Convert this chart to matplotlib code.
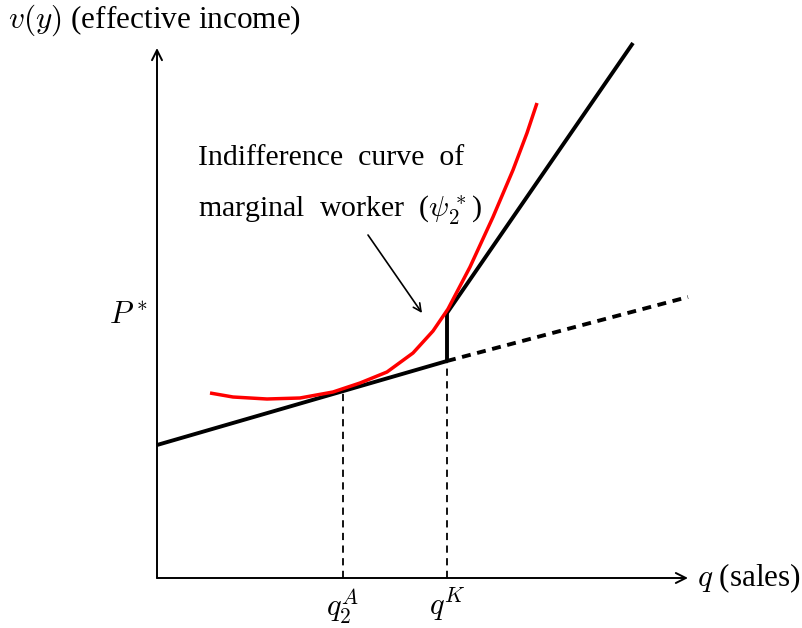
import matplotlib
matplotlib.use("Agg")
import matplotlib.pyplot as plt

plt.rcParams['font.family'] = ['Liberation Serif', 'DejaVu Serif']
plt.rcParams['mathtext.fontset'] = 'cm'

# --- data (model units) ---
axis_x_max = 5.31
axis_y_max = 5.30
q_A = 1.86
q_K = 2.90
intercept_low = 1.33
v_low_at_qK = 2.17
v_high_at_qK = 2.65
dash_end = (5.31, 2.81)
upper_end = (4.76, 5.35)
v_at_qA = 1.87

curve_q = [0.53, 0.76, 1.10, 1.43, 1.76, 2.03, 2.30, 2.56, 2.76, 2.91, 3.13, 3.36, 3.56, 3.70, 3.80]
curve_v = [1.85, 1.81, 1.79, 1.80, 1.86, 1.95, 2.06, 2.25, 2.47, 2.69, 3.11, 3.61, 4.08, 4.45, 4.75]

arrow_from = (2.11, 3.43)
arrow_to = (2.65, 2.65)

fig = plt.figure(figsize=(8.03, 6.28), dpi=100)
ax = fig.add_axes([0, 0, 1, 1])
ax.set_xlim(-1.57, 6.46)
ax.set_ylim(-0.50, 5.78)
ax.axis('off')

# axes arrows
ax.annotate('', xy=(axis_x_max, 0), xytext=(0, 0),
            arrowprops=dict(arrowstyle='->', lw=1.4, color='black', shrinkA=0, shrinkB=0,
                            mutation_scale=18))
ax.annotate('', xy=(0, axis_y_max), xytext=(0, 0),
            arrowprops=dict(arrowstyle='->', lw=1.4, color='black', shrinkA=0, shrinkB=0,
                            mutation_scale=18))

# dashed verticals
ax.plot([q_A, q_A], [0, v_at_qA], color='black', lw=1.3, ls=(0, (4, 3)))
ax.plot([q_K, q_K], [0, v_low_at_qK], color='black', lw=1.3, ls=(0, (4, 3)))

# budget lines
ax.plot([0, q_K], [intercept_low, v_low_at_qK], color='black', lw=2.8, solid_capstyle='butt')
ax.plot([q_K, dash_end[0]], [v_low_at_qK, dash_end[1]], color='black', lw=2.8, ls=(0, (2.3, 1.7)))
ax.plot([q_K, q_K], [v_low_at_qK, v_high_at_qK], color='black', lw=2.8, solid_capstyle='butt')
ax.plot([q_K, upper_end[0]], [v_high_at_qK, upper_end[1]], color='black', lw=2.8, solid_capstyle='butt')

# indifference curve
ax.plot(curve_q, curve_v, color='red', lw=2.5, solid_joinstyle='round', solid_capstyle='butt')

# annotation arrow
ax.annotate('', xy=arrow_to, xytext=arrow_from,
            arrowprops=dict(arrowstyle='->', lw=1.2, color='black', shrinkA=0, shrinkB=0,
                            mutation_scale=14))

fs = 22
ax.text(0.41, 4.20, 'Indifference  curve  of', fontsize=fs - 0.5, ha='left', va='center')
ax.text(0.41, 3.68, r'marginal  worker  ($\psi_2^*$)', fontsize=fs - 0.5, ha='left', va='center')

ax.text(-1.49, 5.58, r'$v(y)$ (effective income)', fontsize=fs + 0.5, ha='left', va='center')
ax.text(5.40, 0.0, r'$q$ (sales)', fontsize=fs + 0.5, ha='left', va='center')
ax.text(-0.10, 2.62, r'$P^*$', fontsize=fs, ha='right', va='center')
ax.text(q_A, -0.08, r'$q_2^A$', fontsize=fs, ha='center', va='top')
ax.text(q_K, -0.08, r'$q^K$', fontsize=fs, ha='center', va='top')

fig.savefig('out.png', dpi=100)
